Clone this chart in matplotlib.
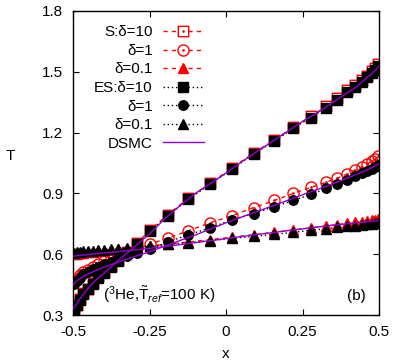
import matplotlib
matplotlib.use("Agg")
import matplotlib.pyplot as plt
from matplotlib.lines import Line2D
from matplotlib.path import Path

plt.rcParams['font.family'] = ['Liberation Sans', 'DejaVu Sans']
plt.rcParams['mathtext.fontset'] = 'custom'
plt.rcParams['mathtext.rm'] = 'Liberation Sans'
plt.rcParams['mathtext.it'] = 'Liberation Sans:italic'

# ---------------- data ----------------
x_grid = [-0.497, -0.488, -0.478, -0.466, -0.452, -0.436, -0.417, -0.398, -0.377, -0.352,
          -0.323, -0.290, -0.248, -0.190, -0.124, -0.052, 0.020, 0.090, 0.158, 0.220,
          0.278, 0.327, 0.363, 0.395, 0.420, 0.444, 0.462, 0.477, 0.488, 0.497]

S_d10 = [0.320, 0.350, 0.380, 0.410, 0.430, 0.460, 0.490, 0.510, 0.540, 0.570,
         0.610, 0.655, 0.720, 0.795, 0.875, 0.950, 1.025, 1.100, 1.163, 1.228,
         1.280, 1.330, 1.370, 1.410, 1.435, 1.460, 1.480, 1.505, 1.520, 1.540]
S_d1 = [0.465, 0.480, 0.495, 0.510, 0.522, 0.535, 0.550, 0.565, 0.580, 0.595,
        0.610, 0.630, 0.650, 0.680, 0.715, 0.755, 0.790, 0.830, 0.865, 0.900,
        0.930, 0.955, 0.975, 0.995, 1.015, 1.030, 1.045, 1.060, 1.070, 1.085]
S_d01 = [0.600, 0.603, 0.605, 0.607, 0.610, 0.612, 0.615, 0.618, 0.620, 0.624,
         0.628, 0.633, 0.640, 0.650, 0.660, 0.672, 0.684, 0.696, 0.708, 0.720,
         0.730, 0.740, 0.746, 0.752, 0.757, 0.761, 0.765, 0.768, 0.771, 0.775]

ES_d10 = [0.318, 0.347, 0.376, 0.405, 0.426, 0.455, 0.485, 0.506, 0.535, 0.566,
          0.605, 0.650, 0.715, 0.790, 0.870, 0.945, 1.020, 1.094, 1.157, 1.222,
          1.274, 1.323, 1.362, 1.402, 1.427, 1.452, 1.472, 1.496, 1.511, 1.530]
ES_d1 = [0.455, 0.470, 0.485, 0.500, 0.510, 0.525, 0.535, 0.550, 0.560, 0.575,
         0.590, 0.605, 0.625, 0.660, 0.695, 0.730, 0.770, 0.800, 0.835, 0.865,
         0.895, 0.925, 0.945, 0.965, 0.985, 1.000, 1.010, 1.020, 1.030, 1.040]
ES_d01 = [0.608, 0.610, 0.612, 0.614, 0.616, 0.618, 0.620, 0.622, 0.624, 0.627,
          0.630, 0.634, 0.640, 0.648, 0.657, 0.667, 0.678, 0.688, 0.698, 0.708,
          0.718, 0.726, 0.732, 0.737, 0.741, 0.745, 0.748, 0.751, 0.753, 0.756]

x_dsmc = [-0.50, -0.49, -0.48, -0.46, -0.44, -0.42, -0.40, -0.37, -0.34, -0.30, -0.25,
          -0.20, -0.15, -0.10, -0.05, 0.00, 0.05, 0.10, 0.15, 0.20, 0.25, 0.30, 0.34,
          0.37, 0.40, 0.42, 0.44, 0.46, 0.48, 0.49, 0.50]
DSMC_d10 = [0.330, 0.350, 0.375, 0.415, 0.450, 0.480, 0.505, 0.545, 0.585, 0.635, 0.700,
            0.775, 0.840, 0.900, 0.950, 1.000, 1.055, 1.105, 1.155, 1.205, 1.255, 1.300,
            1.340, 1.370, 1.400, 1.420, 1.445, 1.470, 1.495, 1.510, 1.530]
DSMC_d1 = [0.450, 0.465, 0.478, 0.495, 0.510, 0.523, 0.535, 0.552, 0.568, 0.588, 0.612,
           0.640, 0.668, 0.695, 0.725, 0.755, 0.783, 0.810, 0.837, 0.865, 0.893, 0.920,
           0.943, 0.960, 0.978, 0.990, 1.003, 1.016, 1.030, 1.038, 1.048]
DSMC_d01 = [0.590, 0.592, 0.594, 0.597, 0.600, 0.603, 0.606, 0.610, 0.615, 0.621, 0.629,
            0.638, 0.647, 0.657, 0.667, 0.677, 0.687, 0.697, 0.706, 0.716, 0.725, 0.734,
            0.741, 0.746, 0.751, 0.754, 0.757, 0.760, 0.763, 0.765, 0.767]

xticks = [-0.5, -0.25, 0, 0.25, 0.5]
xticklabels = ['-0.5', '-0.25', '0', '0.25', '0.5']
yticks = [0.3, 0.6, 0.9, 1.2, 1.5, 1.8]
yticklabels = ['0.3', '0.6', '0.9', '1.2', '1.5', '1.8']

labels = ['S:δ=10', 'δ=1', 'δ=0.1', 'ES:δ=10', 'δ=1', 'δ=0.1', 'DSMC']

# ---------------- style ----------------
RED = '#ff0000'
PURPLE = '#9400d3'
FS = 11

# open square / circle with a small centre dot (gnuplot-like)
_sq = Path([(-1, -1), (1, -1), (1, 1), (-1, 1), (-1, -1)],
           [Path.MOVETO, Path.LINETO, Path.LINETO, Path.LINETO, Path.CLOSEPOLY])
_dot = Path.circle((0, 0), 0.12)
BOXDOT = Path.make_compound_path(_sq, _dot)
_circ = Path.circle((0, 0), 1.0)
CIRCDOT = Path.make_compound_path(_circ, _dot)

fig = plt.figure(figsize=(3.99, 3.64), dpi=100)
ax = fig.add_axes([0.183, 0.1346, 0.767, 0.8352])

dash = (0, (3, 3))
dot = (0, (1, 2))

s_specs = [(S_d10, BOXDOT, 7.5, False), (S_d1, CIRCDOT, 8.0, False), (S_d01, '^', 7.5, True)]
s_handles = []
for y, m, s, filled in s_specs:
    ax.plot(x_grid, y, color=RED, linestyle=dash, linewidth=1.0, marker=m, markersize=s,
            markerfacecolor=RED if filled else 'none', markeredgecolor=RED,
            markeredgewidth=1.0, zorder=2)
    s_handles.append(Line2D([], [], color=RED, linestyle=dash, linewidth=1.0, marker=m,
                            markersize=s, markerfacecolor=RED if filled else 'white',
                            markeredgecolor=RED, markeredgewidth=1.0))

es_specs = [(ES_d10, 's', 7.0), (ES_d1, 'o', 6.8), (ES_d01, '^', 6.8)]
es_handles = []
for y, m, s in es_specs:
    ax.plot(x_grid, y, color='black', linestyle=dot, linewidth=1.0, marker=m, markersize=s,
            markerfacecolor='black', markeredgecolor='black', zorder=3)
    es_handles.append(Line2D([], [], color='black', linestyle=dot, linewidth=1.0, marker=m,
                             markersize=s, markerfacecolor='black', markeredgecolor='black'))

for y in (DSMC_d10, DSMC_d1, DSMC_d01):
    ax.plot(x_dsmc, y, color=PURPLE, linewidth=1.0, zorder=4)
dsmc_handle = Line2D([], [], color=PURPLE, linewidth=1.0)

handles = s_handles + es_handles + [dsmc_handle]
leg = ax.legend(handles, labels, loc='upper right', bbox_to_anchor=(0.428, 0.953),
                markerfirst=False, frameon=False, fontsize=FS, handlelength=2.7,
                handletextpad=0.65, labelspacing=0.3, borderpad=0, borderaxespad=0,
                numpoints=1)

ax.set_xlim(-0.5, 0.5)
ax.set_ylim(0.3, 1.8)
ax.set_xticks(xticks)
ax.set_xticklabels(xticklabels)
ax.set_yticks(yticks)
ax.set_yticklabels(yticklabels)
ax.tick_params(direction='in', length=4, width=0.8, top=True, right=True, labelsize=FS)
ax.tick_params(axis='y', pad=7)
ax.tick_params(axis='x', pad=7)
for sp in ax.spines.values():
    sp.set_linewidth(1.0)

ax.set_xlabel('x', fontsize=FS, labelpad=6)
ax.set_ylabel('T', fontsize=FS, rotation=0, labelpad=0)
ax.yaxis.set_label_coords(-0.205, 0.5)

ax.text(0.098, 0.05, r'($^3$He,$\tilde{\mathrm{T}}_{ref}$=100 K)', transform=ax.transAxes,
        fontsize=FS, ha='left', va='baseline')
ax.text(0.955, 0.05, '(b)', transform=ax.transAxes, fontsize=FS, ha='right', va='baseline')

fig.savefig('out.png', dpi=100)
